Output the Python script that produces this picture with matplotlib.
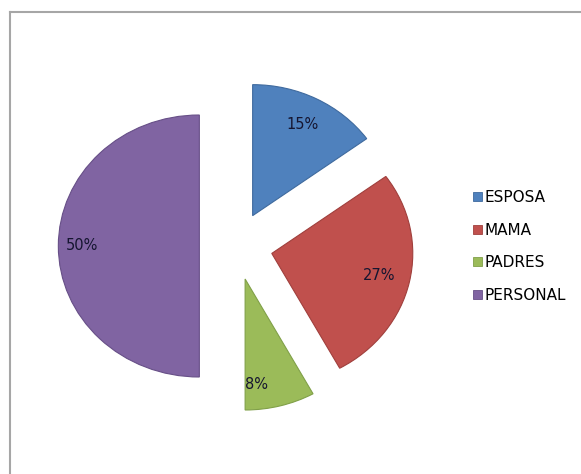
import matplotlib.pyplot as plt
from matplotlib.patches import Patch
from matplotlib.lines import Line2D

labels = ['ESPOSA', 'MAMA', 'PADRES', 'PERSONAL']
values = [15, 27, 8, 50]
colors = ['#4F81BD', '#C0504D', '#9BBB59', '#8064A2']
edges = ['#3F6A9E', '#A03F3C', '#80A048', '#674F87']

W, H = 581, 474
fig = plt.figure(figsize=(W / 100, H / 100), dpi=100)

# pie centre in pixels, slightly wider than tall
cx, cy, rx, ry = 236, 246, 141, 131
ax = fig.add_axes([(cx - 1.5 * rx) / W, (H - cy - 1.5 * ry) / H, 3 * rx / W, 3 * ry / H])

wedges, texts, autotexts = ax.pie(
    values, colors=colors, startangle=90, counterclock=False,
    explode=[0.26] * 4, autopct='%1.0f%%', pctdistance=0.78,
    wedgeprops=dict(linewidth=0.8),
    textprops=dict(fontsize=10.5, color='#151530', family='DejaVu Sans'))
for w, e in zip(wedges, edges):
    w.set_edgecolor(e)

# small nudges for the PADRES and PERSONAL labels
x, y = autotexts[2].get_position()
autotexts[2].set_position((x - 0.11, y - 0.05))
x, y = autotexts[3].get_position()
autotexts[3].set_position((x - 0.05, y))

ax.set_xlim(-1.5, 1.5)
ax.set_ylim(-1.5, 1.5)
ax.set_aspect('auto')
ax.axis('off')

handles = [Patch(facecolor=c, edgecolor=e, linewidth=0.6) for c, e in zip(colors, edges)]
fig.legend(handles, labels, loc='upper left', bbox_to_anchor=(467 / W, 1 - 184 / H),
           frameon=False, prop=dict(family='DejaVu Sans', size=11),
           handlelength=0.55, handleheight=0.55, handletextpad=0.2,
           labelspacing=1.15, borderaxespad=0)

# chart area border (top and left visible)
fig.add_artist(Line2D([10 / W, 1], [1 - 11.5 / H] * 2, color='#A6A6A6', lw=1.5,
                      transform=fig.transFigure))
fig.add_artist(Line2D([10 / W] * 2, [0, 1 - 11.5 / H], color='#A6A6A6', lw=1.5,
                      transform=fig.transFigure))

fig.savefig('out.png', dpi=100)
